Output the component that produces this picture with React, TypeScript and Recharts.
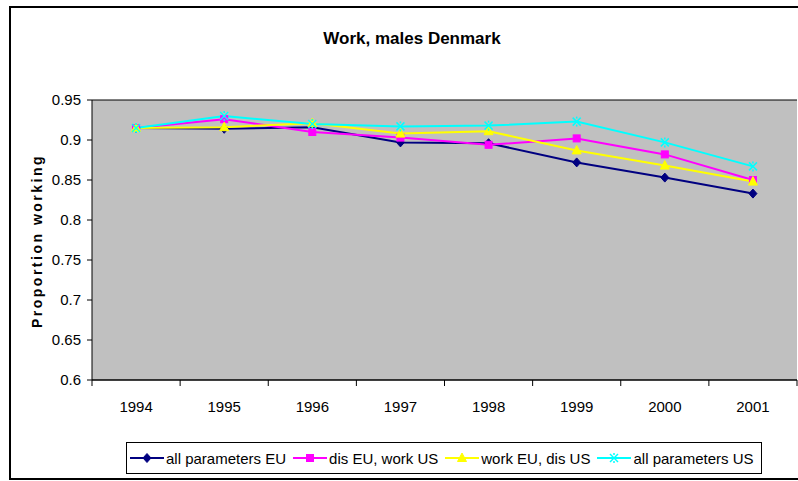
import React from "react";
import { LineChart, Line, XAxis, YAxis, CartesianGrid, Legend } from "recharts";

const years = ["1994", "1995", "1996", "1997", "1998", "1999", "2000", "2001"];
const allParamsEU = [0.915, 0.914, 0.916, 0.897, 0.896, 0.872, 0.853, 0.833];
const disEUWorkUS = [0.915, 0.926, 0.91, 0.903, 0.894, 0.902, 0.882, 0.85];
const workEUDisUS = [0.915, 0.916, 0.921, 0.908, 0.911, 0.887, 0.868, 0.848];
const allParamsUS = [0.915, 0.93, 0.92, 0.917, 0.918, 0.923, 0.897, 0.867];
const yTicks = [0.6, 0.65, 0.7, 0.75, 0.8, 0.85, 0.9, 0.95];

const FONT = "'Liberation Sans', Arial, sans-serif";

type Shape = "diamond" | "square" | "triangle" | "star";

const series: { key: string; name: string; color: string; shape: Shape }[] = [
  { key: "eu", name: "all parameters EU", color: "#000080", shape: "diamond" },
  { key: "disEU", name: "dis EU, work US", color: "#FF00FF", shape: "square" },
  { key: "workEU", name: "work EU, dis US", color: "#FFFF00", shape: "triangle" },
  { key: "us", name: "all parameters US", color: "#00FFFF", shape: "star" },
];

const data = years.map((year, i) => ({
  year,
  eu: allParamsEU[i],
  disEU: disEUWorkUS[i],
  workEU: workEUDisUS[i],
  us: allParamsUS[i],
}));

function Marker({ cx, cy, shape, color }: { cx?: number; cy?: number; shape: Shape; color: string }) {
  if (cx == null || cy == null) return null;
  if (shape === "diamond") {
    return (
      <path
        d={`M${cx},${cy - 4.5}L${cx + 4},${cy}L${cx},${cy + 4.5}L${cx - 4},${cy}Z`}
        fill={color}
        stroke={color}
        strokeWidth={1}
      />
    );
  }
  if (shape === "square") {
    return <rect x={cx - 3.5} y={cy - 3.5} width={7} height={7} fill={color} stroke={color} strokeWidth={1} />;
  }
  if (shape === "triangle") {
    return (
      <path
        d={`M${cx},${cy - 5}L${cx + 4.5},${cy + 3.5}L${cx - 4.5},${cy + 3.5}Z`}
        fill={color}
        stroke={color}
        strokeWidth={1}
      />
    );
  }
  return (
    <g stroke={color} strokeWidth={1.5} fill="none">
      <line x1={cx - 4} y1={cy - 4} x2={cx + 4} y2={cy + 4} />
      <line x1={cx - 4} y1={cy + 4} x2={cx + 4} y2={cy - 4} />
      <line x1={cx} y1={cy - 5} x2={cx} y2={cy - 3} />
      <line x1={cx} y1={cy + 3} x2={cx} y2={cy + 5} />
    </g>
  );
}

// Excel-style category axis: tick marks sit between categories, label in the middle
function YearTick(props: any) {
  const { x, y, payload, index } = props;
  const half = payload?.offset ?? 0;
  const last = index === years.length - 1;
  return (
    <g>
      <line x1={x - half} y1={y} x2={x - half} y2={y + 6} stroke="#000" />
      {last && <line x1={x + half} y1={y} x2={x + half} y2={y + 6} stroke="#000" />}
      <text x={x} y={y + 21} dy="0.71em" textAnchor="middle" fontFamily={FONT} fontSize={15} fill="#000">
        {payload.value}
      </text>
    </g>
  );
}

function LegendBox() {
  return (
    <div
      style={{
        border: "1px solid #000",
        background: "#fff",
        height: 32,
        boxSizing: "border-box",
        display: "flex",
        alignItems: "center",
        paddingLeft: 3,
        fontFamily: FONT,
        fontSize: 15,
        color: "#000",
        whiteSpace: "nowrap",
      }}
    >
      {series.map((s) => (
        <div key={s.key} style={{ display: "flex", alignItems: "center", marginRight: 7 }}>
          <svg width={34} height={12} style={{ marginRight: 2 }}>
            <line x1={0} y1={6} x2={34} y2={6} stroke={s.color} strokeWidth={2} />
            <Marker cx={17} cy={6} shape={s.shape} color={s.color} />
          </svg>
          <span>{s.name}</span>
        </div>
      ))}
    </div>
  );
}

export default function App() {
  return (
    <div style={{ position: "absolute", left: 0, top: 0, width: 798, height: 481, overflow: "hidden", background: "#fff" }}>
      <div
        style={{
          position: "absolute",
          left: 9,
          top: 6,
          width: 830,
          height: 474,
          border: "2px solid #000",
          boxSizing: "border-box",
        }}
      />
      <div
        style={{
          position: "absolute",
          left: 0,
          top: 29,
          width: 824,
          textAlign: "center",
          fontFamily: FONT,
          fontWeight: "bold",
          fontSize: 17,
          color: "#000",
        }}
      >
        Work, males Denmark
      </div>
      <div style={{ position: "absolute", left: 0, top: 0 }}>
        <LineChart width={798} height={481} data={data} margin={{ top: 100, right: 1, bottom: 71, left: 0 }}>
          <CartesianGrid fill="#C0C0C0" fillOpacity={1} stroke="#000" vertical={false} horizontal={true} />
          <XAxis
            xAxisId="cat"
            dataKey="year"
            scale="band"
            height={30}
            interval={0}
            axisLine={{ stroke: "#000", strokeWidth: 1 }}
            tickLine={false}
            tickSize={0}
            tickMargin={0}
            tick={<YearTick />}
          />
          <XAxis
            xAxisId="top"
            orientation="top"
            dataKey="year"
            scale="band"
            height={0}
            tick={false}
            tickLine={false}
            axisLine={{ stroke: "#808080", strokeWidth: 2 }}
          />
          <YAxis
            yAxisId="left"
            width={92}
            domain={[0.6, 0.95]}
            ticks={yTicks}
            interval={0}
            axisLine={{ stroke: "#000", strokeWidth: 1 }}
            tickLine={{ stroke: "#000" }}
            tickSize={5}
            tickMargin={6}
            tick={{ fill: "#000", fontSize: 15, fontFamily: FONT }}
            tickFormatter={(v: number) => String(v)}
            label={{
              content: (props: any) => {
                const vb = props.viewBox || { x: 0, y: 100, width: 92, height: 280 };
                const x = vb.x + 37;
                const y = vb.y + vb.height / 2 + 1;
                return (
                  <text
                    x={x}
                    y={y}
                    transform={`rotate(-90, ${x}, ${y})`}
                    textAnchor="middle"
                    dominantBaseline="central"
                    fontFamily={FONT}
                    fontWeight="bold"
                    fontSize={14}
                    letterSpacing={2.5}
                    fill="#000"
                  >
                    Proportion working
                  </text>
                );
              },
            }}
          />
          <YAxis
            yAxisId="right"
            orientation="right"
            width={0}
            domain={[0.6, 0.95]}
            ticks={yTicks}
            tick={false}
            tickLine={false}
            axisLine={{ stroke: "#808080", strokeWidth: 2 }}
          />
          {series.map((s) => (
            <Line
              key={s.key}
              xAxisId="cat"
              yAxisId="left"
              type="linear"
              dataKey={s.key}
              name={s.name}
              stroke={s.color}
              strokeWidth={2}
              isAnimationActive={false}
              dot={(p: any) => <Marker key={`${s.key}-${p.index}`} cx={p.cx} cy={p.cy} shape={s.shape} color={s.color} />}
              activeDot={false}
            />
          ))}
          <Legend
            layout="horizontal"
            verticalAlign="middle"
            align="center"
            wrapperStyle={{ left: 126, top: 442, width: 636, height: 32 }}
            content={() => <LegendBox />}
          />
        </LineChart>
      </div>
    </div>
  );
}
